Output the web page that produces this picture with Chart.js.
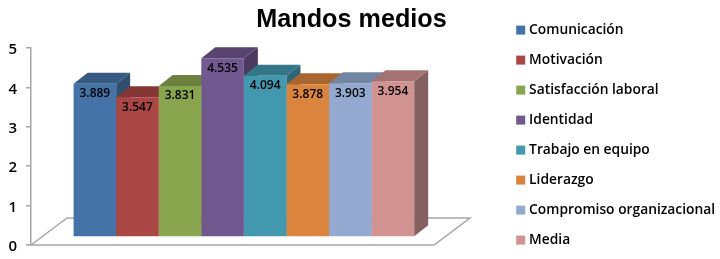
<!DOCTYPE html>
<html>
<head>
<meta charset="utf-8">
<style>
  html, body { margin: 0; padding: 0; background: #fff; }
  #wrap { width: 720px; height: 259px; }
</style>
<script src="https://cdn.jsdelivr.net/npm/chart.js@4"></script>
</head>
<body>
<div id="wrap"><canvas id="chart"></canvas></div>
<script>
const categories = ['Comunicación', 'Motivación', 'Satisfacción laboral', 'Identidad', 'Trabajo en equipo', 'Liderazgo', 'Compromiso organizacional', 'Media'];
const values = [3.889, 3.547, 3.831, 4.535, 4.094, 3.878, 3.903, 3.954];
const frontColors = ['#4573a7', '#aa4643', '#89a54e', '#71588f', '#4198af', '#db843d', '#93a9cf', '#d19392'];
const topColors = ['#365a82', '#853735', '#6b813d', '#58446f', '#337688', '#a86530', '#7285a2', '#a37272'];
const sideColors = ['#2f4e70', '#732f2d', '#5c6f34', '#4c3b60', '#2c6675', '#915729', '#62738c', '#866060'];
const yTicks = [0, 1, 2, 3, 4, 5];

const depthX = 14, depthY = 11, liftY = 8;

// fake 3D: floor, then top and side faces, then the library's bars lifted off the axis
const pseudo3d = {
  id: 'pseudo3d',
  afterLayout(chart) {
    chart.legend.left = 503;
    chart.legend.right = 720;
    chart.legend.top = 7;
    chart.legend.bottom = 280; // legend wraps at draw time if this is too tight
    chart.titleBlock.left = 0;
    chart.titleBlock.right = 703;
  },
  beforeDatasetsDraw(chart) {
    const ctx = chart.ctx;
    const x0 = chart.scales.x.left;
    const y0 = chart.scales.y.getPixelForValue(0);

    ctx.save();
    ctx.strokeStyle = '#a6a6a6';
    ctx.lineWidth = 1.5;
    ctx.beginPath();
    ctx.moveTo(x0, y0);
    ctx.lineTo(x0 + 36, y0 - 27);
    ctx.lineTo(x0 + 439, y0 - 27);
    ctx.lineTo(x0 + 403, y0);
    ctx.closePath();
    ctx.stroke();
    ctx.restore();

    ctx.save();
    ctx.translate(0, -liftY);
    chart.data.datasets.forEach((ds, i) => {
      const bar = chart.getDatasetMeta(i).data[0];
      const l = bar.x - bar.width / 2, r = bar.x + bar.width / 2;
      ctx.fillStyle = sideColors[i];
      ctx.beginPath();
      ctx.moveTo(r, bar.y);
      ctx.lineTo(r + depthX, bar.y - depthY);
      ctx.lineTo(r + depthX, bar.base - depthY);
      ctx.lineTo(r, bar.base);
      ctx.closePath();
      ctx.fill();
      ctx.fillStyle = topColors[i];
      ctx.beginPath();
      ctx.moveTo(l, bar.y);
      ctx.lineTo(l + depthX, bar.y - depthY);
      ctx.lineTo(r + depthX, bar.y - depthY);
      ctx.lineTo(r, bar.y);
      ctx.closePath();
      ctx.fill();
    });
  },
  afterDatasetsDraw(chart) {
    const ctx = chart.ctx;
    ctx.font = '600 12px "Open Sans"';
    ctx.fillStyle = '#000';
    ctx.textAlign = 'center';
    ctx.textBaseline = 'middle';
    chart.data.datasets.forEach((ds, i) => {
      const bar = chart.getDatasetMeta(i).data[0];
      ctx.fillText(ds.data[0].toFixed(3), bar.x, bar.y + 10);
    });
    ctx.restore();
  }
};

new Chart(document.getElementById('chart'), {
  type: 'bar',
  data: {
    labels: [''],
    datasets: categories.map((name, i) => ({
      label: name,
      data: [values[i]],
      backgroundColor: frontColors[i]
    }))
  },
  options: {
    responsive: true,
    maintainAspectRatio: false,
    animation: false,
    layout: { padding: { left: 0, top: 0, right: 111, bottom: 0 } },
    datasets: { bar: { categoryPercentage: 0.8, barPercentage: 1 } },
    scales: {
      x: {
        afterFit: (scale) => { scale.height = 14; },
        grid: { display: false },
        border: { display: false },
        ticks: { display: false }
      },
      y: {
        min: 0,
        max: 5,
        afterFit: (scale) => {
          scale.width = 31;
          scale.paddingTop = 0;
          scale.paddingBottom = 0;
        },
        afterBuildTicks: (scale) => { scale.ticks = yTicks.map(v => ({ value: v })); },
        grid: { drawOnChartArea: false, color: '#a6a6a6', tickLength: 5, lineWidth: 1.5 },
        border: { color: '#a6a6a6', width: 1.5 },
        ticks: { color: '#000', font: { family: 'Open Sans', size: 15, weight: '600' }, padding: 9, labelOffset: 2 }
      }
    },
    plugins: {
      title: {
        display: true,
        text: 'Mandos medios',
        color: '#000',
        font: { family: 'Liberation Sans', size: 25.2, weight: 'bold' },
        padding: { top: 5, bottom: 12.76 }
      },
      legend: {
        position: 'right',
        align: 'start',
        labels: {
          color: '#000',
          font: { family: 'Open Sans', size: 13.8, weight: '600' },
          boxWidth: 3,
          boxHeight: 3,
          padding: 16.2,
          // thick outline so the swatch stays 9px while the text sits close to it
          generateLabels: (chart) => Chart.defaults.plugins.legend.labels.generateLabels(chart).map(item => ({
            ...item,
            strokeStyle: item.fillStyle,
            lineWidth: 6
          }))
        }
      },
      tooltip: { enabled: false }
    }
  },
  plugins: [pseudo3d]
});
</script>
</body>
</html>
